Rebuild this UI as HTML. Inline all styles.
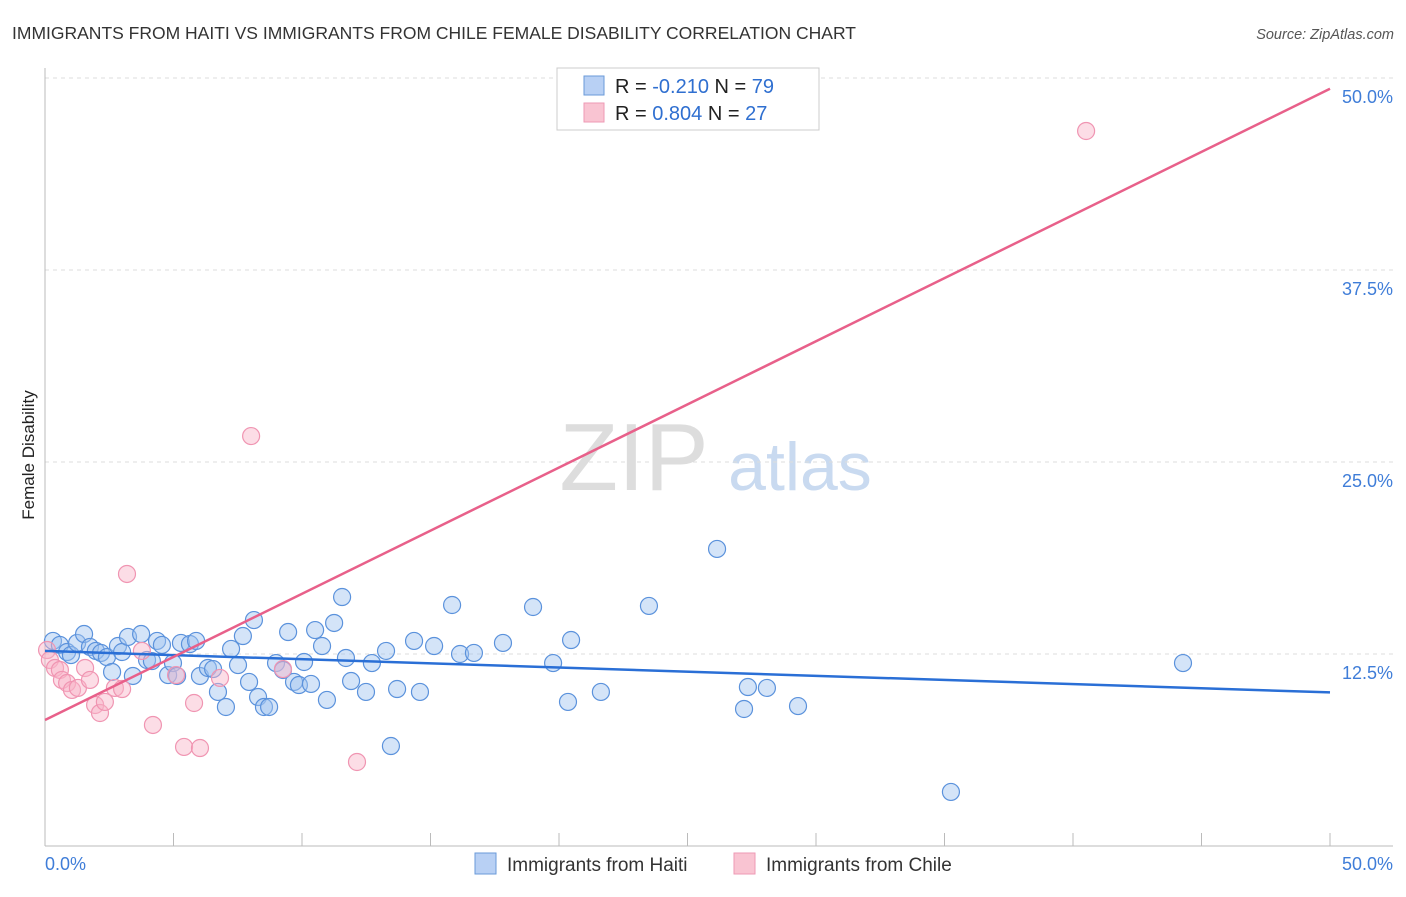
<!DOCTYPE html>
<html><head><meta charset="utf-8"><style>
body{margin:0;background:#fff;font-family:"Liberation Sans",sans-serif}
svg text{font-family:"Liberation Sans",sans-serif}
</style></head><body>
<svg id="c" width="1406" height="892" viewBox="0 0 1406 892">
<text x="12" y="39" font-size="17.5" fill="#333">IMMIGRANTS FROM HAITI VS IMMIGRANTS FROM CHILE FEMALE DISABILITY CORRELATION CHART</text>
<text x="1394" y="39" font-size="14.5" fill="#555" font-style="italic" text-anchor="end">Source: ZipAtlas.com</text>
<text x="634" y="490" font-size="96" fill="#ddd" font-family="Liberation Serif" text-anchor="middle">ZIP</text>
<text x="800" y="490" font-size="68" fill="#c9daf0" text-anchor="middle">atlas</text>
<text transform="translate(34,455) rotate(-90)" font-size="17" fill="#222" text-anchor="middle">Female Disability</text>
<g id="grid"></g><g id="pts"></g><g id="lines"></g>
<g>
<rect x="557" y="68" width="262" height="62" fill="#fff" stroke="#ccc"/>
<rect x="584" y="76" width="20" height="19" fill="#b8d0f4" stroke="#6a9ad8"/>
<rect x="584" y="103" width="20" height="19" fill="#f9c4d2" stroke="#ee9ab4"/>
<text x="615" y="93" font-size="20" fill="#222">R = <tspan fill="#2f6fd0">-0.210</tspan>   N = <tspan fill="#2f6fd0">79</tspan></text>
<text x="615" y="120" font-size="20" fill="#222">R =  <tspan fill="#2f6fd0">0.804</tspan>   N = <tspan fill="#2f6fd0">27</tspan></text>
</g>
<g>
<rect x="475" y="853" width="21" height="21" fill="#b8d0f4" stroke="#6a9ad8"/>
<text x="507" y="871" font-size="19" fill="#333">Immigrants from Haiti</text>
<rect x="734" y="853" width="21" height="21" fill="#f9c4d2" stroke="#ee9ab4"/>
<text x="766" y="871" font-size="19" fill="#333">Immigrants from Chile</text>
</g>
</svg>
<script>
const yTicks=[12.5,25,37.5,50];
const yTickLabels=["12.5%","25.0%","37.5%","50.0%"];
const haitiX=[0.31,0.58,0.86,1.01,1.25,1.52,1.75,1.98,2.18,2.41,2.61,2.84,3.00,3.23,3.42,3.74,3.97,4.16,4.36,4.55,4.79,4.98,5.14,5.29,5.64,5.88,6.03,6.34,6.54,6.73,7.04,7.24,7.51,7.70,7.94,8.13,8.29,8.52,8.72,8.99,9.26,9.46,9.69,9.88,10.08,10.35,10.51,10.78,10.97,11.25,11.56,11.71,11.91,12.49,12.72,13.27,13.46,13.70,14.36,14.59,15.14,15.84,16.15,16.69,17.82,18.99,19.77,20.35,20.47,21.63,23.50,26.15,27.20,27.35,28.09,29.30,35.25,44.28];
const haitiY=[13.35,13.09,12.63,12.43,13.22,13.80,12.96,12.70,12.57,12.30,11.33,13.02,12.63,13.61,11.07,13.80,12.11,12.04,13.35,13.09,11.13,11.91,11.07,13.22,13.15,13.35,11.07,11.59,11.52,10.03,9.05,12.83,11.78,13.67,10.68,14.71,9.70,9.05,9.05,11.91,11.46,13.93,10.68,10.48,11.98,10.55,14.06,13.02,9.51,14.52,16.21,12.24,10.74,10.03,11.91,12.70,6.51,10.22,13.35,10.03,13.02,15.69,12.50,12.57,13.22,15.56,11.91,9.38,13.41,10.03,15.63,19.34,8.92,10.35,10.29,9.11,3.52,11.91];
const chileX=[0.08,0.19,0.39,0.58,0.66,0.86,1.05,1.28,1.56,1.75,1.95,2.14,2.33,2.72,3.00,3.19,3.77,4.20,5.10,5.41,5.80,6.03,6.81,8.02,9.26,12.14,40.51];
const chileY=[12.76,12.11,11.59,11.46,10.81,10.61,10.16,10.29,11.59,10.81,9.18,8.66,9.38,10.29,10.22,17.71,12.70,7.88,11.13,6.45,9.31,6.38,10.94,26.69,11.52,5.47,46.55];
const haitiTrend=[12.7,10.0];
const chileTrend=[8.2,49.3];
const NS="http://www.w3.org/2000/svg";
const X=v=>45+v*25.7, Y=v=>846-v*15.36;
function mk(tag,attrs,parent){const e=document.createElementNS(NS,tag);for(const k in attrs)e.setAttribute(k,attrs[k]);parent.appendChild(e);return e;}
const grid=document.getElementById('grid'),pts=document.getElementById('pts'),lines=document.getElementById('lines'),svg=document.getElementById('c');
yTicks.forEach((t,i)=>{
 const l=mk('line',{x1:45,x2:1393,y1:Y(t),y2:Y(t),stroke:'#ddd','stroke-dasharray':'4,4'},grid);
 
 
 const tx=mk('text',{x:1393,y:Y(t)+25,'font-size':18,fill:'#3f7dd8','text-anchor':'end'},grid);
 tx.textContent=yTickLabels[i];
 
 
});
const ax=mk('line',{x1:45,x2:45,y1:68,y2:846,stroke:'#bbb'},grid);


const bx=mk('line',{x1:45,x2:1393,y1:846,y2:846,stroke:'#bbb'},grid);


for(let v=5;v<=50;v+=5){const t=mk('line',{x1:X(v),x2:X(v),y1:833,y2:846,stroke:'#bbb'},grid);
 
 }
[[0,'0.0%','start',45],[50,'50.0%','end',1393]].forEach(a=>{const t=mk('text',{x:a[3],y:870,'font-size':18,fill:'#3f7dd8','text-anchor':a[2]},grid);t.textContent=a[1];
 
 });
haitiX.forEach((x,i)=>{const c=mk('circle',{cx:X(x),cy:Y(haitiY[i]),r:8.5,fill:'rgba(160,195,240,0.45)',stroke:'#5b92dc','stroke-width':1.2},pts);
 
 });
chileX.forEach((x,i)=>{const c=mk('circle',{cx:X(x),cy:Y(chileY[i]),r:8.5,fill:'rgba(248,180,200,0.45)',stroke:'#f095b2','stroke-width':1.2},pts);
 
 });
const lb=mk('line',{x1:X(0),y1:Y(haitiTrend[0]),x2:X(50),y2:Y(haitiTrend[1]),stroke:'#2a6fd6','stroke-width':2.5},lines);


const lp=mk('line',{x1:X(0),y1:Y(chileTrend[0]),x2:X(50),y2:Y(chileTrend[1]),stroke:'#e8608a','stroke-width':2.5},lines);


</script>
</body></html>
